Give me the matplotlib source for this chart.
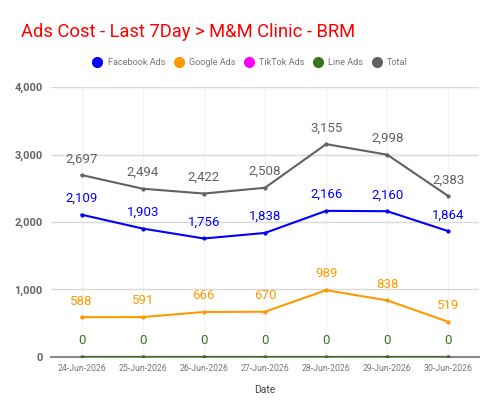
import matplotlib
matplotlib.use("Agg")
import matplotlib.pyplot as plt
from matplotlib.lines import Line2D

plt.rcParams['font.family'] = ['Roboto', 'DejaVu Sans']

dates = ["24-Jun-2026", "25-Jun-2026", "26-Jun-2026", "27-Jun-2026",
         "28-Jun-2026", "29-Jun-2026", "30-Jun-2026"]
facebook = [2109, 1903, 1756, 1838, 2166, 2160, 1864]
google = [588, 591, 666, 670, 989, 838, 519]
tiktok = [0, 0, 0, 0, 0, 0, 0]
line_ads = [0, 0, 0, 0, 0, 0, 0]
total = [2697, 2494, 2422, 2508, 3155, 2998, 2383]

series = [
    ("Facebook Ads", facebook, "#0000ff"),
    ("Google Ads", google, "#ff9900"),
    ("TikTok Ads", tiktok, "#ff00ff"),
    ("Line Ads", line_ads, "#38761d"),
    ("Total", total, "#616161"),
]

fig = plt.figure(figsize=(5, 4.15), dpi=100)
ax = fig.add_axes([0.102, 0.140, 0.856, 0.650])

x = list(range(len(dates)))
for name, vals, col in series:
    ax.plot(x, vals, color=col, lw=1.5, marker='o', ms=2, zorder=3)
    if name == "TikTok Ads":
        continue
    for xi, v in zip(x, vals):
        ax.annotate(f"{v:,}", (xi, v), xytext=(0, 7), textcoords='offset points',
                    ha='center', va='bottom', fontsize=9.5, color=col, zorder=4)

ax.set_xlim(-0.5, 6.5)
ax.set_ylim(0, 4000)
ax.set_yticks([0, 1000, 2000, 3000, 4000])
ax.set_yticklabels([f"{v:,}" for v in [0, 1000, 2000, 3000, 4000]])
ax.set_xticks(x)
ax.set_xticklabels(dates)
ax.grid(axis='y', color='#d9d9d9', lw=1)
ax.grid(axis='x', color='#f3f3f3', lw=1)
ax.set_axisbelow(True)
for s in ['top', 'right', 'left']:
    ax.spines[s].set_visible(False)
ax.spines['bottom'].set_color('#888888')
ax.spines['bottom'].set_linewidth(1.5)
ax.tick_params(axis='y', length=0, labelsize=8, labelcolor='#666666', pad=6)
ax.tick_params(axis='x', length=0, labelsize=6.3, labelcolor='#777777', pad=5)
for t in ax.get_yticklabels():
    t.set_fontweight('bold')
ax.set_xlabel("Date", fontsize=7.5, color='#444444', labelpad=9)

fig.text(0.042, 0.923, "Ads Cost - Last 7Day > M&M Clinic - BRM", color='#ff0000',
         fontsize=13.2, ha='left', va='center')

handles = [Line2D([0], [0], marker='o', color='none', markerfacecolor=c,
                  markeredgecolor=c, markersize=7) for _, _, c in series]
fig.legend(handles, [n for n, _, _ in series], loc='center', bbox_to_anchor=(0.5, 0.85),
           ncol=5, frameon=False, fontsize=6.6, labelcolor='#777777',
           handletextpad=0.5, columnspacing=0.9, handlelength=1.2)

fig.savefig("out.png", dpi=100)
